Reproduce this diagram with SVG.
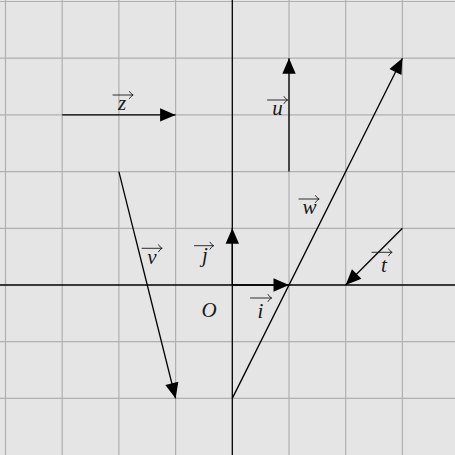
<svg xmlns="http://www.w3.org/2000/svg" width="455" height="455" viewBox="0 0 455 455">
<defs>
<style>
.grid{stroke:#b0b0b0;stroke-width:1.2;fill:none}
.axis{stroke:#000;stroke-width:1.3;fill:none}
.vec{stroke:#000;stroke-width:1.3;fill:none;marker-end:url(#ah)}
.lbl{font-family:"Liberation Serif","DejaVu Serif",serif;font-style:italic;font-size:21px;fill:#1a1a1a;text-anchor:middle}
.oa{stroke:#1a1a1a;stroke-width:0.9;fill:none;stroke-linecap:round;stroke-linejoin:round}
</style>
<marker id="ah" markerUnits="userSpaceOnUse" markerWidth="16" markerHeight="14" refX="15.5" refY="6.7" orient="auto" overflow="visible">
<path d="M0,0 L15.5,6.7 L0,13.4 Z" fill="#000"/>
</marker>
</defs>
<rect x="0" y="0" width="455" height="455" fill="#e5e5e5"/>
<g id="grid" class="grid">
<path d="M5.5,0V455M62.2,0V455M118.9,0V455M175.6,0V455M289,0V455M345.7,0V455M402.4,0V455"/>
<path d="M0,1.5H455M0,58.2H455M0,114.9H455M0,171.6H455M0,228.3H455M0,341.7H455M0,398.4H455"/>
</g>
<g id="axes" class="axis">
<path d="M0,285H455"/>
<path d="M232.3,0V455"/>
</g>
<g id="connectors">
<g id="vec-i"><path class="vec" d="M232.3,285H289"/></g>
<g id="vec-j"><path class="vec" d="M232.3,285V228.3"/></g>
<g id="vec-z"><path class="vec" d="M62.2,114.9H175.6"/></g>
<g id="vec-u"><path class="vec" d="M289,171.6V58.2"/></g>
<g id="vec-v"><path class="vec" d="M118.9,171.6L175.6,398.4"/></g>
<g id="vec-w"><path class="vec" d="M232.3,398.4L402.4,58.2"/></g>
<g id="vec-t"><path class="vec" d="M402.4,228.3L345.7,285"/></g>
</g>
<g id="label-z"><path class="oa" d="M113,95H133M129.5,91.5Q131,94 133,95Q131,96 129.5,98.5"/><text class="lbl" x="122" y="110">z</text></g>
<g id="label-u"><path class="oa" d="M267.5,100H287.5M284,96.5Q285.5,99 287.5,100Q285.5,101 284,103.5"/><text class="lbl" x="277.5" y="115">u</text></g>
<g id="label-w"><path class="oa" d="M299,199H319M315.5,195.5Q317,198 319,199Q317,200 315.5,202.5"/><text class="lbl" x="309.5" y="213.5">w</text></g>
<g id="label-v"><path class="oa" d="M142,248.3H162M158.5,244.8Q160,247.3 162,248.3Q160,249.3 158.5,251.8"/><text class="lbl" x="152" y="263.5">v</text></g>
<g id="label-j"><path class="oa" d="M194.5,245.7H213.5M210,242.2Q211.5,244.7 213.5,245.7Q211.5,246.7 210,249.2"/><text class="lbl" x="205" y="261.5">j</text></g>
<g id="label-t"><path class="oa" d="M372,252.3H392M388.5,248.8Q390,251.3 392,252.3Q390,253.3 388.5,255.8"/><text class="lbl" x="384" y="271.5">t</text></g>
<g id="label-i"><path class="oa" d="M250.5,298H271.5M268,294.5Q269.5,297 271.5,298Q269.5,299 268,301.5"/><text class="lbl" x="260.5" y="318">i</text></g>
<g id="label-O"><text class="lbl" x="209" y="317">O</text></g>
</svg>
